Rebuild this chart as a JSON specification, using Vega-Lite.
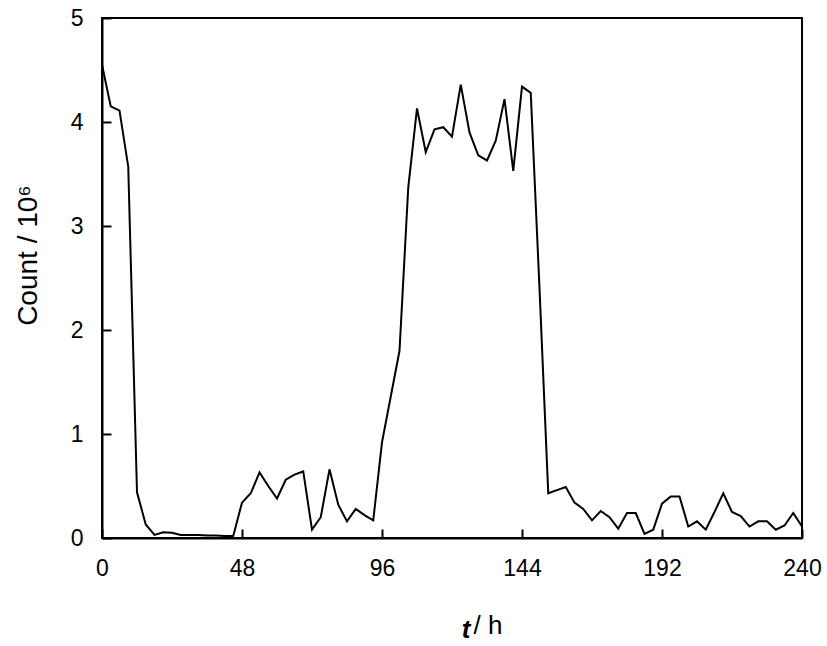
{
  "$schema": "https://vega.github.io/schema/vega-lite/v6.json",
  "width": 700,
  "height": 520,
  "autosize": {"type": "none"},
  "padding": {"left": 102, "top": 18, "right": 25, "bottom": 108},
  "background": "white",
  "config": {
    "view": {"stroke": "black", "strokeWidth": 2},
    "font": "Liberation Sans"
  },
  "title": {
    "text": "t",
    "orient": "bottom",
    "anchor": "start",
    "frame": "group",
    "align": "center",
    "baseline": "alphabetic",
    "dx": 364,
    "dy": 0,
    "offset": 0,
    "font": "Liberation Sans",
    "fontSize": 26,
    "fontStyle": "italic",
    "fontWeight": "bold",
    "color": "black"
  },
  "data": {
    "values": [
      {"t": 0, "count": 4.55}, {"t": 3, "count": 4.15}, {"t": 6, "count": 4.11}, {"t": 9, "count": 3.57},
      {"t": 12, "count": 0.44}, {"t": 15, "count": 0.13}, {"t": 18, "count": 0.03}, {"t": 21, "count": 0.055},
      {"t": 24, "count": 0.05}, {"t": 27, "count": 0.03}, {"t": 30, "count": 0.03}, {"t": 33, "count": 0.03},
      {"t": 36, "count": 0.025}, {"t": 39, "count": 0.025}, {"t": 42, "count": 0.02}, {"t": 45, "count": 0.02},
      {"t": 48, "count": 0.34}, {"t": 51, "count": 0.43}, {"t": 54, "count": 0.63}, {"t": 57, "count": 0.5},
      {"t": 60, "count": 0.38}, {"t": 63, "count": 0.56}, {"t": 66, "count": 0.61}, {"t": 69, "count": 0.64},
      {"t": 72, "count": 0.08}, {"t": 75, "count": 0.2}, {"t": 78, "count": 0.66}, {"t": 81, "count": 0.32},
      {"t": 84, "count": 0.16}, {"t": 87, "count": 0.28}, {"t": 90, "count": 0.22}, {"t": 93, "count": 0.17},
      {"t": 96, "count": 0.92}, {"t": 99, "count": 1.36}, {"t": 102, "count": 1.8}, {"t": 105, "count": 3.37},
      {"t": 108, "count": 4.13}, {"t": 111, "count": 3.71}, {"t": 114, "count": 3.93}, {"t": 117, "count": 3.95},
      {"t": 120, "count": 3.86}, {"t": 123, "count": 4.36}, {"t": 126, "count": 3.9}, {"t": 129, "count": 3.68},
      {"t": 132, "count": 3.63}, {"t": 135, "count": 3.82}, {"t": 138, "count": 4.22}, {"t": 141, "count": 3.53},
      {"t": 144, "count": 4.34}, {"t": 147, "count": 4.28}, {"t": 150, "count": 2.4}, {"t": 153, "count": 0.43},
      {"t": 156, "count": 0.46}, {"t": 159, "count": 0.49}, {"t": 162, "count": 0.34}, {"t": 165, "count": 0.28},
      {"t": 168, "count": 0.17}, {"t": 171, "count": 0.26}, {"t": 174, "count": 0.2}, {"t": 177, "count": 0.09},
      {"t": 180, "count": 0.24}, {"t": 183, "count": 0.24}, {"t": 186, "count": 0.04}, {"t": 189, "count": 0.08},
      {"t": 192, "count": 0.33}, {"t": 195, "count": 0.4}, {"t": 198, "count": 0.4}, {"t": 201, "count": 0.11},
      {"t": 204, "count": 0.16}, {"t": 207, "count": 0.08}, {"t": 210, "count": 0.25}, {"t": 213, "count": 0.43},
      {"t": 216, "count": 0.25}, {"t": 219, "count": 0.21}, {"t": 222, "count": 0.11}, {"t": 225, "count": 0.16},
      {"t": 228, "count": 0.16}, {"t": 231, "count": 0.08}, {"t": 234, "count": 0.12}, {"t": 237, "count": 0.24},
      {"t": 240, "count": 0.11}
    ]
  },
  "mark": {"type": "line", "color": "black", "strokeWidth": 2, "clip": true},
  "encoding": {
    "x": {
      "field": "t",
      "type": "quantitative",
      "scale": {"domain": [0, 240], "nice": false, "zero": false},
      "axis": {
        "values": [0, 48, 96, 144, 192, 240],
        "grid": false,
        "domainColor": "black",
        "domainWidth": 2,
        "tickColor": "black",
        "tickWidth": 2,
        "tickSize": -9,
        "labelPadding": 28,
        "labelFontSize": 23,
        "labelColor": "black",
        "labelFont": "Liberation Sans",
        "labelFlush": false,
        "title": "/ h",
        "titleFontSize": 26,
        "titleFontWeight": "normal",
        "titleColor": "black",
        "titleFont": "Liberation Sans",
        "titleX": 371,
        "titleY": 95,
        "titleAlign": "left",
        "titleBaseline": "alphabetic"
      }
    },
    "y": {
      "field": "count",
      "type": "quantitative",
      "scale": {"domain": [0, 5], "nice": false},
      "axis": {
        "values": [0, 1, 2, 3, 4, 5],
        "grid": false,
        "domainColor": "black",
        "domainWidth": 2,
        "tickColor": "black",
        "tickWidth": 2,
        "tickSize": -9,
        "labelPadding": 28,
        "labelFontSize": 23,
        "labelColor": "black",
        "labelFont": "Liberation Sans",
        "labelFlush": false,
        "title": "Count / 10⁶",
        "titleFontSize": 28,
        "titleFontWeight": "normal",
        "titleColor": "black",
        "titleFont": "Liberation Sans",
        "titleX": -66,
        "titleY": 237,
        "titleAngle": -90,
        "titleAlign": "center",
        "titleBaseline": "alphabetic"
      }
    }
  }
}
